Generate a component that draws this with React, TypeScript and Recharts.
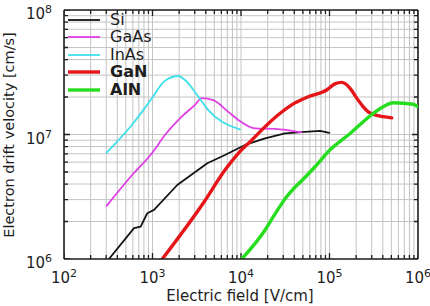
import React from 'react';
import { LineChart, Line, XAxis, YAxis, ReferenceLine } from 'recharts';

// Electric field [V/cm] and electron drift velocity [cm/s] per material
const siField = [322, 618, 735, 873, 1040, 1905, 4160, 6590, 11100, 18700, 31400, 52800, 78200, 99600];
const siVel = [1.0e6, 1.77e6, 1.82e6, 2.33e6, 2.48e6, 3.93e6, 5.87e6, 6.84e6, 8.24e6, 9.3e6, 1.02e7, 1.05e7, 1.07e7, 1.03e7];

const gaasField = [303, 566, 995, 1384, 2140, 3020, 3600, 4860, 7190, 9330, 14400, 24200, 48500];
const gaasVel = [2.67e6, 4.58e6, 7.14e6, 9.9e6, 1.39e7, 1.73e7, 1.96e7, 1.89e7, 1.52e7, 1.31e7, 1.12e7, 1.11e7, 1.04e7];

const inasField = [303, 566, 955, 1384, 1960, 2330, 3300, 4270, 6050, 7850, 9750];
const inasVel = [7.14e6, 1.16e7, 1.89e7, 2.7e7, 2.95e7, 2.74e7, 2.01e7, 1.57e7, 1.27e7, 1.16e7, 1.1e7];

const ganField = [1290, 3820, 6590, 9330, 13200, 17900, 26400, 37400, 57600, 93000, 115000, 137000, 171000, 203000, 241000, 274000, 313000, 405000, 505000];
const ganVel = [1.0e6, 2.87e6, 5.19e6, 7.06e6, 9.0e6, 1.12e7, 1.44e7, 1.73e7, 2.01e7, 2.28e7, 2.55e7, 2.62e7, 2.35e7, 1.96e7, 1.67e7, 1.52e7, 1.45e7, 1.39e7, 1.36e7];

const alnField = [10200, 18700, 23200, 32800, 39000, 48500, 68600, 101000, 171000, 313000, 405000, 526000, 885000, 1000000];
const alnVel = [1.0e6, 1.71e6, 2.19e6, 3.16e6, 3.65e6, 4.25e6, 5.51e6, 7.5e6, 1.02e7, 1.48e7, 1.67e7, 1.8e7, 1.75e7, 1.67e7];

const seriesNames = ['Si', 'GaAs', 'InAs', 'GaN', 'AlN'];
const xTitle = 'Electric field [V/cm]';
const yTitle = 'Electron drift velocity [cm/s]';

const xDecades = [2, 3, 4, 5, 6];
const yDecades = [6, 7, 8];
const mantissas = [1, 2, 3, 4, 5, 6, 7, 8, 9];

const buildTicks = (decades: number[]) => {
  const out: number[] = [];
  decades.forEach((d, i) => {
    if (i === decades.length - 1) out.push(Math.pow(10, d));
    else mantissas.forEach((m) => out.push(m * Math.pow(10, d)));
  });
  return out;
};
const xTicks = buildTicks(xDecades);
const yTicks = buildTicks(yDecades);
const xMajor = xDecades.map((d) => Math.pow(10, d));
const yMajor = yDecades.map((d) => Math.pow(10, d));
const xDomain = [xMajor[0], xMajor[xMajor.length - 1]];
const yDomain = [yMajor[0], yMajor[yMajor.length - 1]];

const zip = (xs: number[], ys: number[]) => xs.map((e, i) => ({ e, v: ys[i] }));

const series = [
  { name: seriesNames[0], data: zip(siField, siVel), color: '#141414', width: 1.8, bold: false, curve: 'linear' },
  { name: seriesNames[1], data: zip(gaasField, gaasVel), color: '#e03ee6', width: 1.8, bold: false, curve: 'monotone' },
  { name: seriesNames[2], data: zip(inasField, inasVel), color: '#3fe0ea', width: 1.8, bold: false, curve: 'monotone' },
  { name: seriesNames[3], data: zip(ganField, ganVel), color: '#e6151a', width: 3.4, bold: true, curve: 'monotone' },
  { name: seriesNames[4], data: zip(alnField, alnVel), color: '#27dd1f', width: 3.4, bold: true, curve: 'monotone' },
];

const FONT = 'DejaVu Sans, Verdana, sans-serif';
const INK = '#1e1e1e';
const GRID = '#c4c4c4';
const PLOT_W = 354;
const PLOT_H = 249;

const expOf = (v: number) => Math.round(Math.log10(v));
const isMajor = (v: number) => Math.abs(v - Math.pow(10, expOf(v))) < 1e-6 * v;
const tickLen = (v: number) => (isMajor(v) ? 6 : 4);

const vSeg = (t: number) => [
  { e: t, v: yDomain[0] },
  { e: t, v: yDomain[1] },
];
const hSeg = (t: number) => [
  { e: xDomain[0], v: t },
  { e: xDomain[1], v: t },
];

const BottomLabel = (props: any) => {
  const { x, y, payload } = props;
  return (
    <text x={x} y={y + 24} textAnchor="middle" fontSize={15} fontFamily={FONT} fill={INK}>
      10<tspan dy={-6} fontSize={11}>{expOf(payload.value)}</tspan>
    </text>
  );
};

const LeftLabel = (props: any) => {
  const { x, y, payload } = props;
  return (
    <text x={x - 12} y={y + 9} textAnchor="end" fontSize={15} fontFamily={FONT} fill={INK}>
      10<tspan dy={-6} fontSize={11}>{expOf(payload.value)}</tspan>
    </text>
  );
};

const LegendBox = () => (
  <div style={{ position: 'absolute', left: 68, top: 11, fontFamily: FONT, fontSize: 16, color: INK }}>
    {series.map((s) => (
      <div key={s.name} style={{ display: 'flex', alignItems: 'center', height: 17.5 }}>
        <svg width={32} height={6} style={{ display: 'block' }}>
          <line x1={0} x2={32} y1={3} y2={3} stroke={s.color} strokeWidth={s.bold ? 3.4 : 1.8} />
        </svg>
        <span style={{ marginLeft: 10, fontWeight: s.bold ? 'bold' : 'normal', lineHeight: '16px' }}>{s.name}</span>
      </div>
    ))}
  </div>
);

const axisLine = { stroke: INK, strokeWidth: 1.6 };

const plainLine = {
  dataKey: 'v',
  type: 'linear' as const,
  dot: false,
  activeDot: false,
  isAnimationActive: false,
  legendType: 'none' as const,
};

export default function App() {
  return (
    <div style={{ position: 'absolute', left: 0, top: 0, width: 430, height: 306, background: '#fff' }}>
      <LineChart width={430} height={306} margin={{ top: 10, right: 12, bottom: 17, left: 8 }}>
        <XAxis
          dataKey="e"
          type="number"
          scale="log"
          domain={xDomain}
          allowDataOverflow
          ticks={xMajor}
          interval={0}
          tickSize={0}
          tickMargin={0}
          tickLine={false}
          axisLine={axisLine}
          tick={<BottomLabel />}
          height={30}
        />
        <YAxis
          dataKey="v"
          type="number"
          scale="log"
          domain={yDomain}
          allowDataOverflow
          ticks={yMajor}
          interval={0}
          tickSize={0}
          tickMargin={0}
          tickLine={false}
          axisLine={axisLine}
          tick={<LeftLabel />}
          width={56}
        />
        {xTicks.map((t) => (
          <Line key={'gx' + t} data={vSeg(t)} {...plainLine} stroke={GRID} strokeWidth={1} />
        ))}
        {yTicks.map((t) => (
          <Line key={'gy' + t} data={hSeg(t)} {...plainLine} stroke={GRID} strokeWidth={1} />
        ))}
        {xTicks.map((t) => (
          <Line
            key={'tx' + t}
            data={vSeg(t)}
            {...plainLine}
            stroke={INK}
            strokeWidth={1.3}
            strokeDasharray={`${tickLen(t)} ${PLOT_H - 2 * tickLen(t)} ${tickLen(t)} ${PLOT_H}`}
          />
        ))}
        {yTicks.map((t) => (
          <Line
            key={'ty' + t}
            data={hSeg(t)}
            {...plainLine}
            stroke={INK}
            strokeWidth={1.3}
            strokeDasharray={`${tickLen(t)} ${PLOT_W - 2 * tickLen(t)} ${tickLen(t)} ${PLOT_W}`}
          />
        ))}
        <ReferenceLine x={xDomain[1]} stroke={INK} strokeWidth={1.6} />
        <ReferenceLine y={yDomain[1]} stroke={INK} strokeWidth={1.6} />
        {series.map((s) => (
          <Line
            key={s.name}
            data={s.data}
            dataKey="v"
            name={s.name}
            type={s.curve as any}
            stroke={s.color}
            strokeWidth={s.width}
            dot={false}
            activeDot={false}
            isAnimationActive={false}
            strokeLinejoin="round"
            strokeLinecap="round"
          />
        ))}
      </LineChart>
      <LegendBox />
      <div
        style={{
          position: 'absolute',
          left: 0,
          top: 287,
          width: 480,
          textAlign: 'center',
          fontFamily: FONT,
          fontSize: 15,
          lineHeight: '18px',
          color: INK,
        }}
      >
        {xTitle}
      </div>
      <div
        style={{
          position: 'absolute',
          left: 9,
          top: 135,
          width: 260,
          marginLeft: -130,
          marginTop: -9,
          textAlign: 'center',
          fontFamily: FONT,
          fontSize: 14.5,
          lineHeight: '18px',
          color: INK,
          transform: 'rotate(-90deg)',
          whiteSpace: 'nowrap',
        }}
      >
        {yTitle}
      </div>
    </div>
  );
}
